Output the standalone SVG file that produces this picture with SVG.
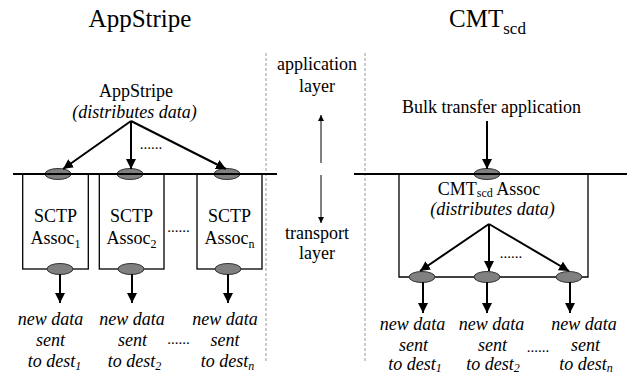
<svg xmlns="http://www.w3.org/2000/svg" width="627" height="377" viewBox="0 0 627 377">
  <defs>
    <style>
      text { fill: #000; text-anchor: middle; }
      .title { font-size: 25px; }
      .lbl { font-size: 18px; }
      .it { font-size: 18px; font-style: italic; }
      .dots { font-size: 15px; }
      .sub { font-size: 12px; }
      .bus { stroke: #000; stroke-width: 2; fill: none; }
      .box { stroke: #000; stroke-width: 1.3; fill: none; }
      .port { fill: #808080; stroke: #333; stroke-width: 1; }
      .arr { stroke: #000; stroke-width: 2; fill: none; marker-end: url(#head); }
      .thin { stroke: #000; stroke-width: 1; fill: none; marker-end: url(#headSmall); }
      .sep { stroke: #999; stroke-width: 1; stroke-dasharray: 3 2; fill: none; }
    </style>
    <marker id="head" viewBox="0 0 10 10" refX="10" refY="5" markerWidth="10" markerHeight="10" markerUnits="userSpaceOnUse" orient="auto">
      <path d="M0,0 L10,5 L0,10 z" fill="#000"/>
    </marker>
    <marker id="headSmall" viewBox="0 0 10 10" refX="10" refY="5" markerWidth="7" markerHeight="6" markerUnits="userSpaceOnUse" orient="auto">
      <path d="M0,0 L10,5 L0,10 z" fill="#000"/>
    </marker>
  </defs>

  <rect width="627" height="377" fill="#fff"/>

  <g font-family="Liberation Serif, serif">
  <!-- column titles -->
  <text class="title" x="140" y="27">AppStripe</text>
  <text class="title" x="487.5" y="27">CMT<tspan class="sub" style="font-size:17px" dy="7">scd</tspan></text>

  <!-- layer separator -->
  <g id="layer-divider">
    <line class="sep" x1="266" y1="53" x2="266" y2="363"/>
    <line class="sep" x1="365" y1="53" x2="365" y2="363"/>
    <text class="lbl" x="317" y="70">application</text>
    <text class="lbl" x="317" y="92">layer</text>
    <text class="lbl" x="317" y="239">transport</text>
    <text class="lbl" x="317" y="259">layer</text>
  </g>

  <!-- left: application-level striping -->
  <g id="appstripe">
    <text class="lbl" x="136" y="97">AppStripe</text>
    <text class="it" x="134.5" y="118">(distributes data)</text>
    <text class="dots" x="151" y="149">......</text>
  </g>

  <g id="sctp-assoc-1">
    <rect class="box" x="22.7" y="174" width="65.6" height="95"/>
    <text class="lbl" x="55.5" y="222">SCTP</text>
    <text class="lbl" x="55.5" y="244">Assoc<tspan class="sub" dy="4">1</tspan></text>
    <ellipse class="port" cx="58" cy="174" rx="13" ry="5.5"/>
    <ellipse class="port" cx="60" cy="269" rx="13" ry="5.5"/>
  </g>
  <g id="sctp-assoc-2">
    <rect class="box" x="99.3" y="174" width="64.7" height="95"/>
    <text class="lbl" x="131.5" y="222">SCTP</text>
    <text class="lbl" x="131.5" y="244">Assoc<tspan class="sub" dy="4">2</tspan></text>
    <ellipse class="port" cx="130" cy="174" rx="13" ry="5.5"/>
    <ellipse class="port" cx="131" cy="269" rx="13" ry="5.5"/>
  </g>
  <text class="dots" x="178.5" y="232">......</text>
  <g id="sctp-assoc-n">
    <rect class="box" x="197" y="174" width="65" height="95"/>
    <text class="lbl" x="229.5" y="222">SCTP</text>
    <text class="lbl" x="229.5" y="244">Assoc<tspan class="sub" dy="4">n</tspan></text>
    <ellipse class="port" cx="227" cy="174" rx="13" ry="5.5"/>
    <ellipse class="port" cx="228" cy="269" rx="13" ry="5.5"/>
  </g>

  <g id="left-dest-1">
    <text class="it" x="50.5" y="325">new data</text>
    <text class="it" x="50.5" y="346">sent</text>
    <text class="it" x="54.5" y="367">to dest<tspan class="sub" dy="3">1</tspan></text>
  </g>
  <g id="left-dest-2">
    <text class="it" x="132" y="325">new data</text>
    <text class="it" x="132.5" y="346">sent</text>
    <text class="it" x="134.5" y="367">to dest<tspan class="sub" dy="3">2</tspan></text>
  </g>
  <text class="dots" x="178.5" y="344">......</text>
  <g id="left-dest-n">
    <text class="it" x="225" y="325">new data</text>
    <text class="it" x="225" y="346">sent</text>
    <text class="it" x="227.5" y="367">to dest<tspan class="sub" dy="3">n</tspan></text>
  </g>

  <!-- right: transport-level striping -->
  <g id="bulk-app">
    <text class="lbl" x="491.5" y="113">Bulk transfer application</text>
  </g>

  <g id="cmt-assoc">
    <path class="box" d="M399,174 V277 H588 V174"/>
    <text class="lbl" x="489" y="195">CMT<tspan class="sub" dy="2">scd</tspan><tspan dy="-2"> Assoc</tspan></text>
    <text class="it" x="492.5" y="215">(distributes data)</text>
    <text class="dots" x="511" y="258">......</text>
    <ellipse class="port" cx="487" cy="174" rx="13" ry="5.5"/>
    <ellipse class="port" cx="422" cy="277" rx="13" ry="5.5"/>
    <ellipse class="port" cx="487" cy="277" rx="13" ry="5.5"/>
    <ellipse class="port" cx="569" cy="277" rx="13" ry="5.5"/>
  </g>

  <g id="right-dest-1">
    <text class="it" x="412.5" y="330">new data</text>
    <text class="it" x="413.5" y="351">sent</text>
    <text class="it" x="415" y="370">to dest<tspan class="sub" dy="2">1</tspan></text>
  </g>
  <g id="right-dest-2">
    <text class="it" x="491.5" y="330">new data</text>
    <text class="it" x="492.5" y="351">sent</text>
    <text class="it" x="493" y="370">to dest<tspan class="sub" dy="2">2</tspan></text>
  </g>
  <text class="dots" x="538" y="352">......</text>
  <g id="right-dest-n">
    <text class="it" x="584" y="330">new data</text>
    <text class="it" x="585.5" y="351">sent</text>
    <text class="it" x="586" y="370">to dest<tspan class="sub" dy="2">n</tspan></text>
  </g>
  </g>

  <!-- connectors -->
  <g id="connectors">
    <!-- layer boundary lines -->
    <line class="bus" x1="13" y1="174" x2="277" y2="174"/>
    <line class="bus" x1="354" y1="174" x2="627" y2="174"/>
    <!-- layer direction -->
    <line class="thin" x1="321" y1="163" x2="321" y2="115"/>
    <line class="thin" x1="321" y1="175" x2="321" y2="223"/>
    <!-- AppStripe fan-out -->
    <line class="arr" x1="131" y1="121" x2="63" y2="169"/>
    <line class="arr" x1="131" y1="121" x2="131" y2="169"/>
    <line class="arr" x1="131" y1="121" x2="226" y2="169"/>
    <!-- SCTP outputs -->
    <line class="arr" x1="60" y1="274" x2="60" y2="303"/>
    <line class="arr" x1="132" y1="274" x2="132" y2="303"/>
    <line class="arr" x1="228" y1="274" x2="228" y2="303"/>
    <!-- bulk app into CMT -->
    <line class="arr" x1="487" y1="121" x2="487" y2="169"/>
    <!-- CMT fan-out -->
    <line class="arr" x1="489" y1="224" x2="420" y2="271"/>
    <line class="arr" x1="489" y1="224" x2="489" y2="271"/>
    <line class="arr" x1="489" y1="224" x2="569" y2="271"/>
    <!-- CMT outputs -->
    <line class="arr" x1="423" y1="282" x2="423" y2="313"/>
    <line class="arr" x1="487" y1="282" x2="487" y2="313"/>
    <line class="arr" x1="570" y1="282" x2="570" y2="313"/>
  </g>
</svg>
